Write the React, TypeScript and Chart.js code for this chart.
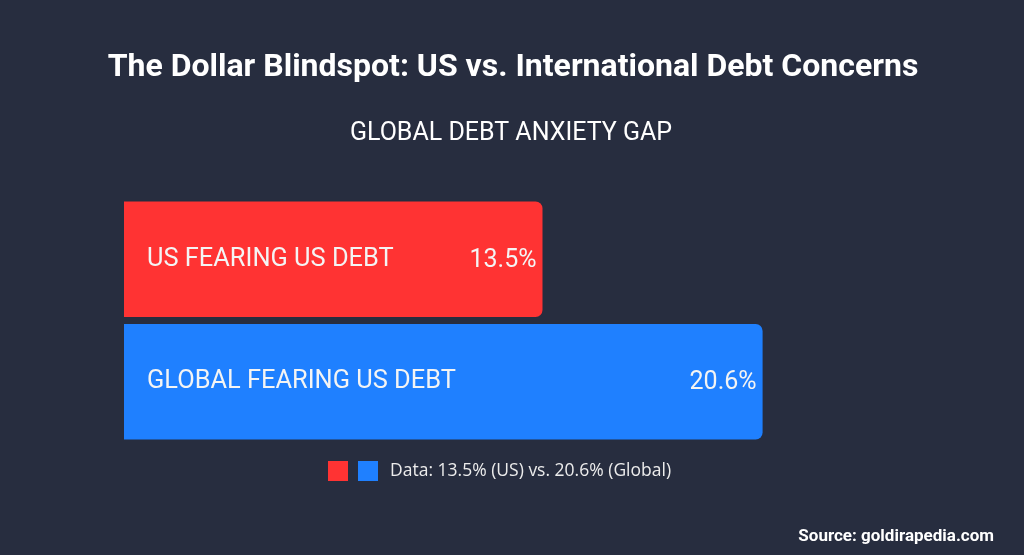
import React, { useEffect, useRef } from "react";
import { Chart, registerables } from "chart.js";

Chart.register(...registerables);

const categories = ["US FEARING US DEBT", "GLOBAL FEARING US DEBT"];
const values = [13.5, 20.6];
const barColors = ["#ff3333", "#1f80ff"];
const titleText = "The Dollar Blindspot: US vs. International Debt Concerns";
const subtitleText = "GLOBAL DEBT ANXIETY GAP";
const legendText = "Data: 13.5% (US) vs. 20.6% (Global)";
const sourceText = "Source: goldirapedia.com";
const xMax = 25;

const BG = "#272d3f";

const textPlugin = {
  id: "textPlugin",
  afterDatasetsDraw(chart: any) {
    const ctx = chart.ctx as CanvasRenderingContext2D;
    const meta = chart.getDatasetMeta(0);
    ctx.save();
    meta.data.forEach((bar: any, i: number) => {
      const props = bar.getProps(["x", "y", "base"], true);
      ctx.fillStyle = "#f4f4f4";
      ctx.textBaseline = "middle";
      ctx.textAlign = "left";
      ctx.font = "25.4px Roboto";
      ctx.fillText(categories[i], props.base + 23, props.y);
      ctx.textAlign = "right";
      ctx.font = "25px Roboto";
      ctx.fillText(values[i].toFixed(1) + "%", props.x - 6, props.y + 1);
    });
    ctx.restore();
  },
  afterDraw(chart: any) {
    const ctx = chart.ctx as CanvasRenderingContext2D;
    const w = chart.width;
    ctx.save();
    ctx.fillStyle = "#ffffff";
    ctx.textAlign = "center";
    ctx.textBaseline = "alphabetic";
    ctx.font = "bold 32px Roboto";
    ctx.fillText(titleText, w / 2 + 1, 76);
    ctx.font = "25px Roboto";
    ctx.fillText(subtitleText, w / 2 - 1, 140);

    // legend
    const lx = 328;
    const ly = 461;
    ctx.fillStyle = barColors[0];
    ctx.fillRect(lx, ly, 20, 20);
    ctx.fillStyle = barColors[1];
    ctx.fillRect(lx + 30, ly, 20, 20);
    ctx.fillStyle = "#ececec";
    ctx.font = "17.5px 'Open Sans'";
    ctx.textAlign = "left";
    ctx.textBaseline = "middle";
    ctx.fillText(legendText, lx + 62, ly + 10);

    ctx.font = "bold 17px Roboto";
    ctx.textAlign = "right";
    ctx.textBaseline = "alphabetic";
    ctx.fillStyle = "#ffffff";
    ctx.fillText(sourceText, 994, 541);
    ctx.restore();
  },
};

export default function App() {
  const ref = useRef<HTMLCanvasElement | null>(null);
  useEffect(() => {
    document.body.style.margin = "0";
    document.body.style.background = BG;
    const chart = new Chart(ref.current as HTMLCanvasElement, {
      type: "bar",
      data: {
        labels: categories,
        datasets: [
          {
            data: values,
            backgroundColor: barColors,
            borderRadius: 7,
            borderSkipped: "start",
            categoryPercentage: 1,
            barPercentage: 0.943,
          },
        ],
      },
      options: {
        indexAxis: "y",
        animation: false,
        responsive: false,
        maintainAspectRatio: false,
        layout: { padding: { left: 124, right: 1024 - 899, top: 198, bottom: 555 - 443 } },
        scales: {
          x: { display: false, min: 0, max: xMax },
          y: { display: false },
        },
        plugins: {
          legend: { display: false },
          title: { display: false },
          tooltip: { enabled: false },
        },
      },
      plugins: [textPlugin],
    });
    return () => chart.destroy();
  }, []);
  return (
    <div style={{ width: 1024, height: 555, background: BG }}>
      <canvas ref={ref} width={1024} height={555} style={{ display: "block" }} />
    </div>
  );
}
